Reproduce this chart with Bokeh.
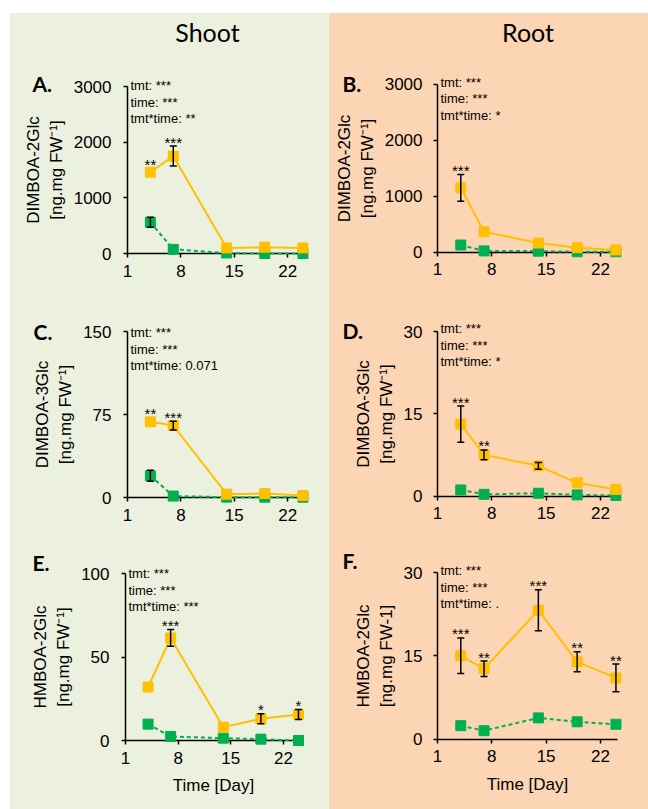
from bokeh.plotting import figure
from bokeh.layouts import column, row
from bokeh.models import ColumnDataSource, Whisker, TeeHead, Label, FixedTicker, Range1d, Spacer
from bokeh.embed import file_html
from bokeh.resources import INLINE
from bokeh.core.properties import value

# ---------------- data ----------------
days = [4, 7, 14, 19, 24]
x_ticks = [1, 8, 15, 22]

# A: DIMBOA-2Glc shoot
a_trt = [1460, 1750, 100, 113, 100]
a_trt_err = [0, 180, 0, 0, 0]
a_ctl = [560, 75, 10, 0, 0]
a_ctl_err = [90, 0, 0, 0, 0]
a_stars = ["**", "***", "", "", ""]
a_stats = ["tmt: ***", "time: ***", "tmt*time: **"]

# B: DIMBOA-2Glc root
b_trt = [1145, 362, 160, 77, 36]
b_trt_err = [240, 0, 0, 0, 0]
b_ctl = [125, 20, 15, 5, 5]
b_ctl_err = [0, 0, 0, 0, 0]
b_stars = ["***", "", "", "", ""]
b_stats = ["tmt: ***", "time: ***", "tmt*time: *"]

# C: DIMBOA-3Glc shoot
c_trt = [68.4, 65.0, 3.0, 3.6, 1.8]
c_trt_err = [0, 4, 0, 0, 0]
c_ctl = [19.6, 1.3, 0.3, 0.3, 0.3]
c_ctl_err = [5, 0, 0, 0, 0]
c_stars = ["**", "***", "", "", ""]
c_stats = ["tmt: ***", "time: ***", "tmt*time: 0.071"]

# D: DIMBOA-3Glc root
d_trt = [13.1, 7.5, 5.5, 2.4, 1.2]
d_trt_err = [3.3, 0.9, 0.6, 0, 0]
d_ctl = [1.1, 0.3, 0.5, 0.2, 0.1]
d_ctl_err = [0, 0, 0, 0, 0]
d_stars = ["***", "**", "", "", ""]
d_stats = ["tmt: ***", "time: ***", "tmt*time: *"]

# E: HMBOA-2Glc shoot
e_trt = [32, 61.4, 8, 13, 15.6]
e_trt_err = [0, 5, 0, 3, 3]
e_ctl = [9.8, 2.4, 1.4, 0.8, 0]
e_ctl_err = [0, 0, 0, 0, 0]
e_stars = ["", "***", "", "*", "*"]
e_stats = ["tmt: ***", "time: ***", "tmt*time: ***"]

# F: HMBOA-2Glc root
f_trt = [15.0, 12.65, 23.2, 13.9, 11.0]
f_trt_err = [3.2, 1.4, 3.7, 1.8, 2.5]
f_ctl = [2.4, 1.5, 3.8, 3.1, 2.65]
f_ctl_err = [0, 0, 0, 0, 0]
f_stars = ["***", "**", "***", "**", "**"]
f_stats = ["tmt: ***", "time: ***", "tmt*time: ."]

GREEN_BG = "#EBF1DE"
ORANGE_BG = "#FCD5B5"
TRT = "#FFC000"
CTL = "#00B050"
FONT = "Liberation Sans"
TFONT = "Lato"


def make_cell(g):
    """One panel; geometry in page px. The frame covers the whole cell and both axes
    sit at fixed data locations (day 1 / value 0)."""
    bg = g["bg"]
    cx0, cx1, cy0, cy1 = g["cell"]
    ymax = g["ymax"]
    dt, db = g["data_top"], g["data_bottom"]
    fl, fw, x_end = g["axis_left"], g["axis_width"], g["x_end"]
    kx = fw / (x_end - 1.0)
    x0 = 1.0 - (fl - cx0) / kx
    x1 = x_end + (cx1 - (fl + fw)) / kx
    ky = (db - dt) / ymax
    y0 = -(cy1 - db) / ky
    y1 = ymax + (dt - cy0) / ky

    p = figure(width=cx1 - cx0, height=cy1 - cy0, x_range=Range1d(x0, x1),
               y_range=Range1d(y0, y1), title=None, min_border=0,
               min_border_left=0, min_border_right=0, min_border_top=0,
               min_border_bottom=0, background_fill_color=bg, border_fill_color=bg,
               outline_line_color=None, toolbar_location=None, output_backend="svg")
    p.xgrid.visible = False
    p.ygrid.visible = False
    p.xaxis.ticker = FixedTicker(ticks=x_ticks)
    p.yaxis.ticker = FixedTicker(ticks=g["yticks"])
    p.yaxis.fixed_location = 1
    p.xaxis.fixed_location = 0
    p.yaxis.bounds = (0, ymax)
    p.xaxis.bounds = (1, x_end)
    for ax in (p.xaxis[0], p.yaxis[0]):
        ax.major_tick_in = 0
        ax.major_tick_out = 4
        ax.minor_tick_in = 0
        ax.minor_tick_out = 0
        ax.axis_line_width = 1.5
        ax.axis_line_color = "black"
        ax.major_tick_line_width = 1.5
        ax.major_tick_line_color = "black"
        ax.major_label_text_font = FONT
        ax.major_label_text_font_size = "17px"
        ax.major_label_text_color = "black"
        ax.axis_label_text_font = FONT
        ax.axis_label_text_font_size = "17px"
        ax.axis_label_text_font_style = "normal"
        ax.axis_label_text_color = "black"
    p.yaxis.major_label_standoff = g["ystandoff"]
    p.yaxis.axis_label = g["ylabel"]
    p.yaxis.axis_label_standoff = 5
    p.xaxis.major_label_standoff = 7
    if g.get("xlabel"):
        p.xaxis.axis_label = g["xlabel"]
        p.xaxis.axis_label_standoff = 9

    trt, trt_err, ctl, ctl_err = g["trt"], g["trt_err"], g["ctl"], g["ctl_err"]
    p.line(days, ctl, line_color=CTL, line_width=2, line_dash="4 3", level="overlay")
    p.scatter(days, ctl, marker="square", size=10, fill_color=CTL, line_color=CTL, level="overlay")
    p.line(days, trt, line_color=TRT, line_width=2, level="overlay")
    p.scatter(days, trt, marker="square", size=10, fill_color=TRT, line_color=TRT, level="overlay")

    for vals, errs in ((ctl, ctl_err), (trt, trt_err)):
        xs = [d for d, e in zip(days, errs) if e > 0]
        if not xs:
            continue
        up = [v + e for v, e in zip(vals, errs) if e > 0]
        lo = [v - e for v, e in zip(vals, errs) if e > 0]
        src = ColumnDataSource(dict(x=xs, upper=up, lower=lo))
        p.add_layout(Whisker(source=src, base="x", upper="upper", lower="lower",
                             line_color="black", line_width=1.5, level="overlay",
                             upper_head=TeeHead(size=7, line_color="black", line_width=1.5),
                             lower_head=TeeHead(size=7, line_color="black", line_width=1.5)))

    # significance stars, a few px above the error bar / marker
    per_px = ymax / (db - dt)
    sx, sy, st = [], [], []
    for d, v, e, star in zip(days, trt, trt_err, g["stars"]):
        if star:
            sx.append(d)
            sy.append(v + e + (4 if e > 0 else 8) * per_px)
            st.append(star)
    if sx:
        p.text(x="x", y="y", text="t", source=ColumnDataSource(dict(x=sx, y=sy, t=st)),
               text_align="center", text_baseline="middle", text_color="black",
               text_font=value(FONT), text_font_size="15px", level="overlay")

    # statistics text
    for i, line in enumerate(g["stats"]):
        p.add_layout(Label(x=1, y=ymax, x_offset=3, y_offset=g["stats_dy"] - 16.5 * i, text=line,
                           text_font=FONT, text_font_size="13px", text_color="black",
                           text_align="left", text_baseline="middle"))
    # panel letter
    lx, ly = g["letter_pos"]
    p.add_layout(Label(x=1, y=ymax, x_offset=lx - fl, y_offset=dt - ly, text=g["letter"],
                       text_font=TFONT, text_font_style="bold", text_font_size="21px",
                       text_color="black", text_align="left", text_baseline="middle"))
    # column title
    if g.get("title"):
        tx, ty = g["title_pos"]
        p.add_layout(Label(x=1, y=ymax, x_offset=tx - fl, y_offset=dt - ty, text=g["title"],
                           text_font=TFONT, text_font_size="25px", text_color="black",
                           text_align="center", text_baseline="middle"))
    return p


LBL = "\n[ng.mg FW\u207b\u00b9]"
panels_left = [
    dict(letter="A.", ylabel="DIMBOA-2Glc" + LBL, ymax=3000, yticks=[0, 1000, 2000, 3000],
         trt=a_trt, trt_err=a_trt_err, ctl=a_ctl, ctl_err=a_ctl_err, stars=a_stars, stats=a_stats,
         cell=(10, 329, 13, 290), letter_pos=(32, 83), data_top=86, data_bottom=253,
         axis_left=127, axis_width=180, x_end=24.6, ystandoff=12, stats_dy=1,
         title="Shoot", title_pos=(207, 31)),
    dict(letter="C.", ylabel="DIMBOA-3Glc" + LBL, ymax=150, yticks=[0, 75, 150],
         trt=c_trt, trt_err=c_trt_err, ctl=c_ctl, ctl_err=c_ctl_err, stars=c_stars, stats=c_stats,
         cell=(10, 329, 290, 530), letter_pos=(33, 331), data_top=331, data_bottom=497,
         axis_left=127, axis_width=180, x_end=24.6, ystandoff=12, stats_dy=-1),
    dict(letter="E.", ylabel="HMBOA-2Glc" + LBL, ymax=100, yticks=[0, 50, 100],
         trt=e_trt, trt_err=e_trt_err, ctl=e_ctl, ctl_err=e_ctl_err, stars=e_stars, stats=e_stats,
         cell=(10, 329, 530, 809), letter_pos=(32, 562), data_top=573, data_bottom=740,
         axis_left=125, axis_width=176, x_end=24.4, ystandoff=12, stats_dy=0,
         xlabel="Time [Day]"),
]
panels_right = [
    dict(letter="B.", ylabel="DIMBOA-2Glc" + LBL, ymax=3000, yticks=[0, 1000, 2000, 3000],
         trt=b_trt, trt_err=b_trt_err, ctl=b_ctl, ctl_err=b_ctl_err, stars=b_stars, stats=b_stats,
         cell=(329, 648, 13, 290), letter_pos=(342, 83), data_top=83.5, data_bottom=251.5,
         axis_left=437, axis_width=180, x_end=24.2, ystandoff=11, stats_dy=2,
         title="Root", title_pos=(527.5, 31.5)),
    dict(letter="D.", ylabel="DIMBOA-3Glc" + LBL, ymax=30, yticks=[0, 15, 30],
         trt=d_trt, trt_err=d_trt_err, ctl=d_ctl, ctl_err=d_ctl_err, stars=d_stars, stats=d_stats,
         cell=(329, 648, 290, 530), letter_pos=(342, 330), data_top=331, data_bottom=495.5,
         axis_left=437, axis_width=180, x_end=24.2, ystandoff=11, stats_dy=3),
    dict(letter="F.", ylabel="HMBOA-2Glc\n[ng.mg FW-1]", ymax=30, yticks=[0, 15, 30],
         trt=f_trt, trt_err=f_trt_err, ctl=f_ctl, ctl_err=f_ctl_err, stars=f_stars, stats=f_stats,
         cell=(329, 648, 530, 809), letter_pos=(342, 560), data_top=572, data_bottom=738.5,
         axis_left=437, axis_width=180, x_end=24.2, ystandoff=11, stats_dy=2,
         xlabel="Time [Day]"),
]

left = column(*[make_cell(dict(g, bg=GREEN_BG)) for g in panels_left], spacing=0,
              styles={"background-color": GREEN_BG})
right = column(*[make_cell(dict(g, bg=ORANGE_BG)) for g in panels_right], spacing=0,
               styles={"background-color": ORANGE_BG})

layout = column(Spacer(height=13), row(Spacer(width=10), left, right, spacing=0), spacing=0)

open("out.html", "w").write(file_html(layout, INLINE))
